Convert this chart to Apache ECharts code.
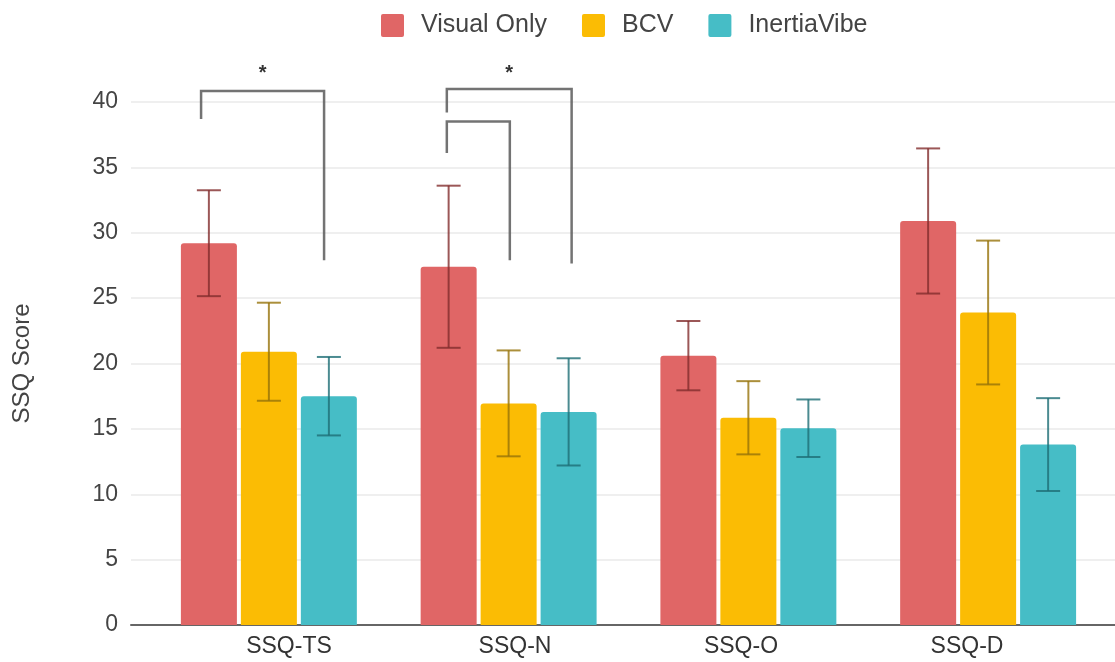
<!DOCTYPE html>
<html>
<head>
<meta charset="utf-8">
<script src="https://cdn.jsdelivr.net/npm/echarts@6/dist/echarts.min.js"></script>
<style>
  html, body { margin: 0; padding: 0; background: #fff; }
  #chart { width: 1115px; height: 662px; }
</style>
</head>
<body>
<div id="chart"></div>
<script>
// data
const categories = ['SSQ-TS', 'SSQ-N', 'SSQ-O', 'SSQ-D'];
const seriesNames = ['Visual Only', 'BCV', 'InertiaVibe'];
const visualOnly = [29.2, 27.4, 20.6, 30.9];
const visualOnlyErr = [4.05, 6.2, 2.65, 5.55];
const bcv = [20.9, 16.95, 15.85, 23.9];
const bcvErr = [3.75, 4.05, 2.8, 5.5];
const inertiaVibe = [17.5, 16.3, 15.05, 13.8];
const inertiaVibeErr = [3.0, 4.1, 2.2, 3.55];
const yTicks = [0, 5, 10, 15, 20, 25, 30, 35, 40];

// significance brackets: [category, left bar slot, right bar slot, top y, left end y, right end y, star y, mark]
const brackets = [
  [0, -0.13, 1.92, 40.85, 38.7, 27.9, 42.2, '*'],
  [1, -0.03, 2.05, 41.0, 39.2, 27.65, 42.2, '*'],
  [1, -0.03, 1.02, 38.5, 36.1, 27.9, 0, '']
];

const colors = ['#E06666', '#FBBC04', '#46BDC6'];
const errColors = ['rgba(130,45,45,0.8)', 'rgba(150,115,10,0.8)', 'rgba(30,110,118,0.8)'];
const values = [visualOnly, bcv, inertiaVibe];
const errors = [visualOnlyErr, bcvErr, inertiaVibeErr];

const BAR_W = 56;
const SLOT = 60;   // bar width + gap
const FONT = '"Liberation Sans", Arial, sans-serif';

const chart = echarts.init(document.getElementById('chart'));

function errorSeries(i) {
  return {
    name: seriesNames[i] + ' error',
    type: 'custom',
    xAxisIndex: 1,
    yAxisIndex: 1,
    z: 5,
    data: categories.map((c, k) => [k, values[i][k] - errors[i][k], values[i][k] + errors[i][k]]),
    renderItem: function (params, api) {
      const lo = api.coord([api.value(0), api.value(1)]);
      const hi = api.coord([api.value(0), api.value(2)]);
      const x = lo[0] + (i - 1) * SLOT;
      const cap = 12;
      const style = { stroke: errColors[i], lineWidth: 2 };
      return {
        type: 'group',
        children: [
          { type: 'line', shape: { x1: x, y1: hi[1], x2: x, y2: lo[1] }, style: style },
          { type: 'line', shape: { x1: x - cap, y1: hi[1], x2: x + cap, y2: hi[1] }, style: style },
          { type: 'line', shape: { x1: x - cap, y1: lo[1], x2: x + cap, y2: lo[1] }, style: style }
        ]
      };
    }
  };
}

const option = {
  backgroundColor: '#fff',
  animation: false,
  textStyle: { fontFamily: FONT },
  legend: {
    data: seriesNames,
    left: 376,
    top: 8,
    itemWidth: 23,
    itemHeight: 23,
    itemGap: 35,
    icon: 'path://M2,0 L21,0 Q23,0 23,2 L23,21 Q23,23 21,23 L2,23 Q0,23 0,21 L0,2 Q0,0 2,0 Z',
    textStyle: { fontSize: 25, color: '#444', fontFamily: FONT, padding: [0, 0, 0, 12] }
  },
  grid: [
    { left: 131, right: 0, top: 102, bottom: 37 },
    { left: 149, right: 7, top: 102, bottom: 37 },
    { left: 176, right: 35, top: 102, bottom: 37 }
  ],
  xAxis: [
    {
      type: 'category', gridIndex: 0, data: categories,
      axisLine: { lineStyle: { color: '#666', width: 2 } },
      axisTick: { show: false }, axisLabel: { show: false }
    },
    {
      type: 'category', gridIndex: 1, data: categories,
      axisLine: { show: false }, axisTick: { show: false }, axisLabel: { show: false }
    },
    {
      type: 'category', gridIndex: 2, data: categories,
      axisLine: { show: false }, axisTick: { show: false },
      axisLabel: { fontSize: 23, color: '#333', margin: 10, fontFamily: FONT }
    }
  ],
  yAxis: [
    {
      type: 'value', gridIndex: 0, min: yTicks[0], max: yTicks[yTicks.length - 1], interval: 5,
      name: 'SSQ Score', nameLocation: 'middle', nameGap: 97,
      nameTextStyle: { fontSize: 24, color: '#444', fontFamily: FONT },
      axisLine: { show: false }, axisTick: { show: false },
      axisLabel: { fontSize: 23, color: '#444', margin: 13, fontFamily: FONT },
      splitLine: { lineStyle: { color: '#eaeaea', width: 1.5 } }
    },
    {
      type: 'value', gridIndex: 1, min: 0, max: 40, interval: 5,
      show: false, splitLine: { show: false }
    },
    {
      type: 'value', gridIndex: 2, min: 0, max: 40, interval: 5,
      show: false, splitLine: { show: false }
    }
  ],
  series: [
    ...seriesNames.map((name, i) => ({
      name: name,
      type: 'bar',
      xAxisIndex: 1,
      yAxisIndex: 1,
      barWidth: BAR_W,
      barGap: ((SLOT - BAR_W) / BAR_W * 100).toFixed(1) + '%',
      itemStyle: { color: colors[i], borderRadius: [3, 3, 0, 0] },
      data: values[i]
    })),
    ...seriesNames.map((n, i) => errorSeries(i)),
    {
      name: 'brackets',
      type: 'custom',
      xAxisIndex: 1,
      yAxisIndex: 1,
      z: 6,
      clip: false,
      data: brackets,
      renderItem: function (params, api) {
        const b = brackets[params.dataIndex];
        const c = api.coord([b[0], 0]);
        const xl = c[0] + (b[1] - 1) * SLOT;
        const xr = c[0] + (b[2] - 1) * SLOT;
        const yt = api.coord([b[0], b[3]])[1];
        const yl = api.coord([b[0], b[4]])[1];
        const yr = api.coord([b[0], b[5]])[1];
        const style = { stroke: 'rgba(90,90,90,0.85)', lineWidth: 2.5, fill: null };
        const children = [
          { type: 'polyline', shape: { points: [[xl, yl], [xl, yt], [xr, yt], [xr, yr]] }, style: style }
        ];
        if (b[7]) {
          const ys = api.coord([b[0], b[6]])[1];
          children.push({
            type: 'text',
            style: {
              text: b[7], x: (xl + xr) / 2, y: ys,
              align: 'center', verticalAlign: 'middle',
              fontSize: 20, fontWeight: 'bold', fill: '#333', fontFamily: FONT
            }
          });
        }
        return { type: 'group', children: children };
      }
    }
  ]
};

chart.setOption(option);
</script>
</body>
</html>
